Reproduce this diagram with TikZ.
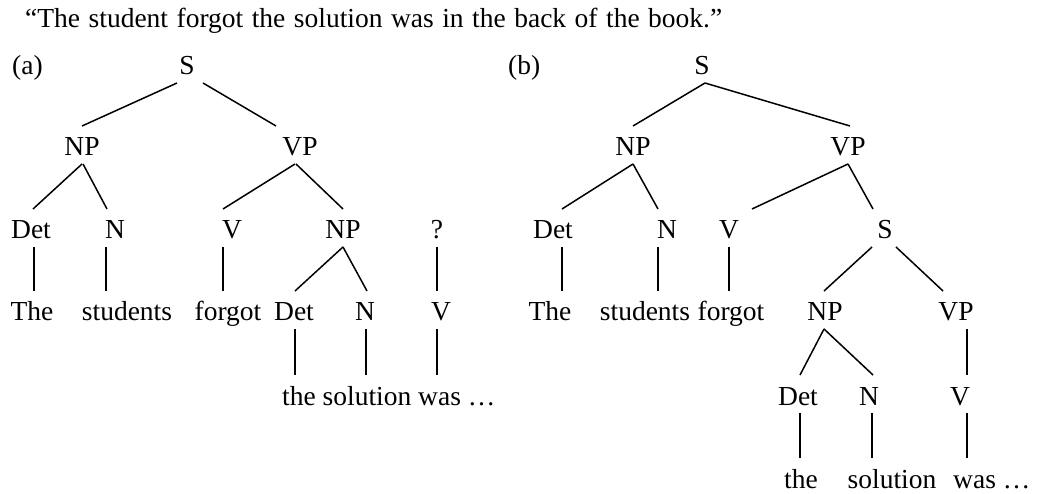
\documentclass[tikz,border=0pt]{standalone}
\usepackage{fontspec}
\setmainfont{Liberation Serif}
\newcommand\tedge[4]{\draw[edge] ([shift={(#2,8)}]#1.base) -- ([shift={(#4,-30)}]#3.base);}
\begin{document}
\begin{tikzpicture}[x=1pt,y=-1pt,
  lbl/.style={anchor=base,inner sep=0pt,font=\fontsize{27.5}{33}\selectfont},
  edge/.style={line width=1.5pt,line cap=butt}]
\useasboundingbox (0,0) rectangle (1047,494);
\node[lbl,anchor=base west] (title) at (25,28) {\spaceskip=8.5pt\relax “The student forgot the solution was in the back of the book.”};
\node[lbl,anchor=base west] (la) at (12,75) {(a)};
\node[lbl,anchor=base west] (lb) at (508,75) {(b)};
% tree (a)
\node[lbl] (Sa) at (187,75) {S};
\node[lbl] (NPa) at (82,156) {NP};
\node[lbl] (VPa) at (300,156) {VP};
\node[lbl] (Deta) at (31,239) {Det};
\node[lbl] (Na) at (115,239) {N};
\node[lbl] (Va) at (232,239) {V};
\node[lbl] (NPa2) at (343,239) {NP};
\node[lbl] (Qa) at (437,239) {?};
\node[lbl] (Thea) at (32,321) {The};
\node[lbl] (stua) at (127,321) {students};
\node[lbl] (forga) at (228,321) {forgot};
\node[lbl] (Deta2) at (294,321) {Det};
\node[lbl] (Na2) at (365,321) {N};
\node[lbl] (Va2) at (441,321) {V};
\node[lbl,anchor=base west] (wordsa) at (282,405) {the solution was …};
\tedge{Sa}{-10}{NPa}{0}
\tedge{Sa}{16}{VPa}{-24}
\tedge{NPa}{0}{Deta}{2}
\tedge{NPa}{1}{Na}{-8}
\tedge{VPa}{-5}{Va}{-9}
\tedge{VPa}{-4}{NPa2}{0}
\tedge{Deta}{3}{Thea}{2}
\tedge{Na}{-9}{stua}{-21}
\tedge{Va}{-9}{forga}{-5}
\tedge{NPa2}{0}{Deta2}{1}
\tedge{NPa2}{0}{Na2}{2}
\tedge{Qa}{0}{Va2}{-4}
\draw[edge] ([shift={(1,8)}]Deta2.base) -- ([shift={(13,-30)}]wordsa.base west);
\draw[edge] ([shift={(1,8)}]Na2.base) -- ([shift={(84,-30)}]wordsa.base west);
\draw[edge] ([shift={(-4,8)}]Va2.base) -- ([shift={(155,-30)}]wordsa.base west);
% tree (b)
\node[lbl] (Sb) at (702,75) {S};
\node[lbl] (NPb) at (633,156) {NP};
\node[lbl] (VPb) at (848,156) {VP};
\node[lbl] (Detb) at (553,239) {Det};
\node[lbl] (Nb) at (667,239) {N};
\node[lbl] (Vb) at (729,239) {V};
\node[lbl] (Sb2) at (885,239) {S};
\node[lbl] (Theb) at (550,321) {The};
\node[lbl] (stub) at (645,321) {students};
\node[lbl] (forgb) at (731,321) {forgot};
\node[lbl] (NPb2) at (825,321) {NP};
\node[lbl] (VPb2) at (956,321) {VP};
\node[lbl] (Detb2) at (798,405) {Det};
\node[lbl] (Nb2) at (869,405) {N};
\node[lbl] (Vb2) at (960,405) {V};
\node[lbl] (theb) at (801,488) {the};
\node[lbl] (solb) at (892,488) {solution};
\node[lbl,anchor=base west] (wasb) at (953,488) {was …};
\tedge{Sb}{3}{NPb}{0}
\tedge{Sb}{3}{VPb}{2}
\tedge{NPb}{0}{Detb}{9}
\tedge{NPb}{0}{Nb}{-9}
\tedge{VPb}{0}{Vb}{23}
\tedge{VPb}{0}{Sb2}{-12}
\tedge{Detb}{9}{Theb}{12}
\tedge{Nb}{-9}{stub}{13}
\tedge{Vb}{0}{forgb}{-2}
\tedge{Sb2}{-13}{NPb2}{-1}
\tedge{Sb2}{11}{VPb2}{-13}
\tedge{NPb2}{-1}{Detb2}{2}
\tedge{NPb2}{-1}{Nb2}{4}
\tedge{VPb2}{11}{Vb2}{7}
\tedge{Detb2}{2}{theb}{-1}
\tedge{Nb2}{3}{solb}{-20}
\draw[edge] ([shift={(7,8)}]Vb2.base) -- ([shift={(14,-30)}]wasb.base west);
\end{tikzpicture}
\end{document}
